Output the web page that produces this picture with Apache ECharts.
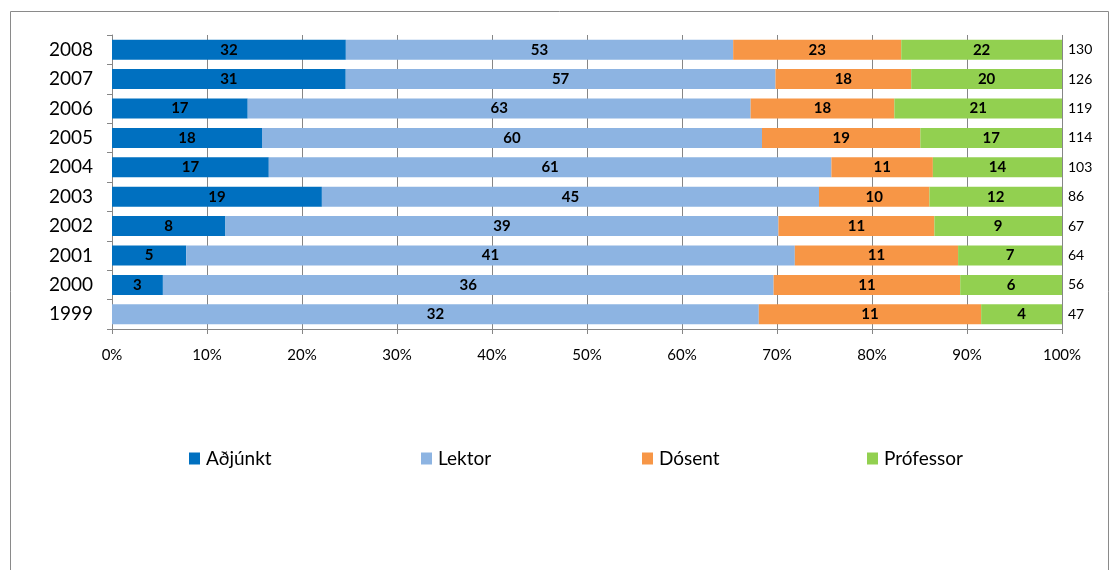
<!DOCTYPE html>
<html>
<head>
<meta charset="utf-8">
<script src="https://cdn.jsdelivr.net/npm/echarts@6/dist/echarts.min.js"></script>
<style>
  html, body { margin: 0; padding: 0; background: #fff; }
  #chart { width: 1114px; height: 570px; }
</style>
</head>
<body>
<div id="chart"></div>
<script>
var years = ['1999', '2000', '2001', '2002', '2003', '2004', '2005', '2006', '2007', '2008'];
var adjunkt = [0, 3, 5, 8, 19, 17, 18, 17, 31, 32];
var lektor = [32, 36, 41, 39, 45, 61, 60, 63, 57, 53];
var dosent = [11, 11, 11, 11, 10, 11, 19, 18, 18, 23];
var professor = [4, 6, 7, 9, 12, 14, 17, 21, 20, 22];
var names = ['Aðjúnkt', 'Lektor', 'Dósent', 'Prófessor'];
var colors = ['#0070C0', '#8DB4E2', '#F79646', '#92D050'];
var counts = [adjunkt, lektor, dosent, professor];

var totals = years.map(function (y, i) {
  return adjunkt[i] + lektor[i] + dosent[i] + professor[i];
});

var font = 'Lato, "Liberation Sans", sans-serif';
var chart = echarts.init(document.getElementById('chart'));

var series = counts.map(function (arr, k) {
  return {
    name: names[k],
    type: 'bar',
    stack: 'all',
    barWidth: 20,
    itemStyle: { color: colors[k] },
    label: {
      show: true,
      position: 'inside',
      color: '#000',
      fontWeight: 'bold',
      fontSize: 15,
      fontFamily: font,
      formatter: function (p) {
        var v = arr[p.dataIndex];
        return v ? String(v) : '';
      }
    },
    data: arr.map(function (v, i) { return v / totals[i] * 100; })
  };
});

// one legend per item so each can be placed like the original
var legendLeft = [189, 421, 642, 867];
var legends = names.map(function (n, k) {
  return {
    data: [n],
    left: legendLeft[k],
    top: 449,
    padding: 0,
    itemWidth: 11,
    itemHeight: 12,
    itemGap: 0,
    icon: 'rect',
    textStyle: { fontSize: 19, fontFamily: font, color: '#000', padding: [0, 0, 0, 1] }
  };
});

var option = {
  animation: false,
  backgroundColor: '#fff',
  graphic: [{
    type: 'rect',
    shape: { x: 10.5, y: 11.5, width: 1098, height: 600 },
    style: { fill: 'none', stroke: '#8a8a8a', lineWidth: 1 },
    silent: true
  }],
  legend: legends,
  grid: { left: 112, right: 52, top: 35, bottom: 241 },
  xAxis: {
    type: 'value',
    min: 0,
    max: 100,
    interval: 10,
    axisLine: { show: true, lineStyle: { color: '#868686' } },
    axisTick: { show: true, length: 5, lineStyle: { color: '#868686' } },
    splitLine: { show: true, lineStyle: { color: '#868686' } },
    axisLabel: { formatter: '{value}%', fontSize: 15, fontFamily: font, color: '#000', margin: 19 }
  },
  yAxis: [{
    type: 'category',
    data: years,
    axisLine: { show: true, lineStyle: { color: '#868686' } },
    axisTick: { show: true, length: 5, lineStyle: { color: '#868686' } },
    axisLabel: { fontSize: 19, fontFamily: font, color: '#000', margin: 19 }
  }, {
    type: 'category',
    position: 'right',
    data: totals.map(String),
    axisLine: { show: false },
    axisTick: { show: false },
    axisLabel: { fontSize: 14, fontFamily: font, color: '#000', margin: 6 }
  }],
  series: series
};

chart.setOption(option);
</script>
</body>
</html>
